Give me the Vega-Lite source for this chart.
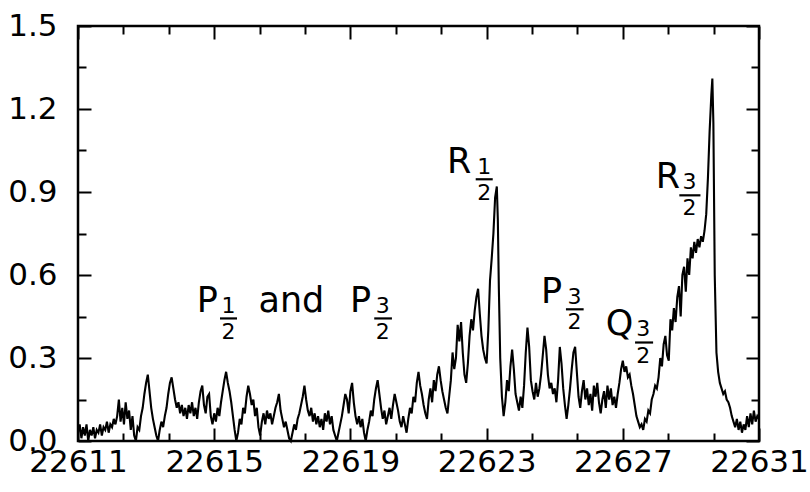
{
  "$schema": "https://vega.github.io/schema/vega-lite/v6.json",
  "autosize": {"type": "none"},
  "padding": {"left": 78, "top": 26, "right": 51, "bottom": 51},
  "width": 681,
  "height": 415,
  "background": "white",
  "datasets": {
    "spectrum": [
      {"x":22611.00,"y":0.03},{"x":22611.05,"y":0.06},{"x":22611.10,"y":0.01},{"x":22611.15,"y":0.05},{"x":22611.20,"y":0.02},{"x":22611.25,"y":0.06},{"x":22611.30,"y":0.00},{"x":22611.35,"y":0.04},{"x":22611.40,"y":0.02},{"x":22611.45,"y":0.05},
      {"x":22611.50,"y":0.01},{"x":22611.55,"y":0.04},{"x":22611.60,"y":0.03},{"x":22611.65,"y":0.06},{"x":22611.70,"y":0.02},{"x":22611.75,"y":0.05},{"x":22611.80,"y":0.04},{"x":22611.85,"y":0.07},{"x":22611.90,"y":0.03},{"x":22611.95,"y":0.06},
      {"x":22612.00,"y":0.05},{"x":22612.05,"y":0.08},{"x":22612.10,"y":0.06},{"x":22612.15,"y":0.09},{"x":22612.20,"y":0.15},{"x":22612.25,"y":0.07},{"x":22612.30,"y":0.12},{"x":22612.35,"y":0.06},{"x":22612.40,"y":0.14},{"x":22612.45,"y":0.08},
      {"x":22612.50,"y":0.11},{"x":22612.55,"y":0.04},{"x":22612.60,"y":0.09},{"x":22612.65,"y":0.02},{"x":22612.70,"y":0.00},{"x":22612.75,"y":0.05},{"x":22612.80,"y":0.04},{"x":22612.85,"y":0.09},{"x":22612.90,"y":0.12},{"x":22612.95,"y":0.17},
      {"x":22613.00,"y":0.21},{"x":22613.05,"y":0.24},{"x":22613.10,"y":0.18},{"x":22613.15,"y":0.12},{"x":22613.20,"y":0.08},{"x":22613.25,"y":0.05},{"x":22613.30,"y":0.02},{"x":22613.35,"y":0.00},{"x":22613.40,"y":0.04},{"x":22613.45,"y":0.07},
      {"x":22613.50,"y":0.05},{"x":22613.55,"y":0.09},{"x":22613.60,"y":0.12},{"x":22613.65,"y":0.17},{"x":22613.70,"y":0.21},{"x":22613.75,"y":0.23},{"x":22613.80,"y":0.19},{"x":22613.85,"y":0.15},{"x":22613.90,"y":0.12},{"x":22613.95,"y":0.14},
      {"x":22614.00,"y":0.10},{"x":22614.05,"y":0.13},{"x":22614.10,"y":0.09},{"x":22614.15,"y":0.12},{"x":22614.20,"y":0.08},{"x":22614.25,"y":0.13},{"x":22614.30,"y":0.10},{"x":22614.35,"y":0.14},{"x":22614.40,"y":0.09},{"x":22614.45,"y":0.12},
      {"x":22614.50,"y":0.08},{"x":22614.55,"y":0.14},{"x":22614.60,"y":0.18},{"x":22614.65,"y":0.20},{"x":22614.70,"y":0.13},{"x":22614.75,"y":0.10},{"x":22614.80,"y":0.16},{"x":22614.85,"y":0.17},{"x":22614.90,"y":0.09},{"x":22614.95,"y":0.06},
      {"x":22615.00,"y":0.10},{"x":22615.05,"y":0.07},{"x":22615.10,"y":0.12},{"x":22615.15,"y":0.09},{"x":22615.20,"y":0.14},{"x":22615.25,"y":0.18},{"x":22615.30,"y":0.22},{"x":22615.35,"y":0.25},{"x":22615.40,"y":0.21},{"x":22615.45,"y":0.18},
      {"x":22615.50,"y":0.14},{"x":22615.55,"y":0.09},{"x":22615.60,"y":0.04},{"x":22615.65,"y":0.00},{"x":22615.70,"y":0.03},{"x":22615.75,"y":0.08},{"x":22615.80,"y":0.06},{"x":22615.85,"y":0.12},{"x":22615.90,"y":0.10},{"x":22615.95,"y":0.16},
      {"x":22616.00,"y":0.20},{"x":22616.05,"y":0.17},{"x":22616.10,"y":0.13},{"x":22616.15,"y":0.15},{"x":22616.20,"y":0.09},{"x":22616.25,"y":0.12},{"x":22616.30,"y":0.05},{"x":22616.35,"y":0.02},{"x":22616.40,"y":0.07},{"x":22616.45,"y":0.10},
      {"x":22616.50,"y":0.06},{"x":22616.55,"y":0.11},{"x":22616.60,"y":0.08},{"x":22616.65,"y":0.10},{"x":22616.70,"y":0.06},{"x":22616.75,"y":0.09},{"x":22616.80,"y":0.12},{"x":22616.85,"y":0.14},{"x":22616.90,"y":0.17},{"x":22616.95,"y":0.11},
      {"x":22617.00,"y":0.08},{"x":22617.05,"y":0.05},{"x":22617.10,"y":0.07},{"x":22617.15,"y":0.04},{"x":22617.20,"y":0.01},{"x":22617.25,"y":0.00},{"x":22617.30,"y":0.03},{"x":22617.35,"y":0.06},{"x":22617.40,"y":0.04},{"x":22617.45,"y":0.08},
      {"x":22617.50,"y":0.10},{"x":22617.55,"y":0.13},{"x":22617.60,"y":0.16},{"x":22617.65,"y":0.20},{"x":22617.70,"y":0.15},{"x":22617.75,"y":0.11},{"x":22617.80,"y":0.09},{"x":22617.85,"y":0.12},{"x":22617.90,"y":0.07},{"x":22617.95,"y":0.10},
      {"x":22618.00,"y":0.06},{"x":22618.05,"y":0.09},{"x":22618.10,"y":0.05},{"x":22618.15,"y":0.08},{"x":22618.20,"y":0.04},{"x":22618.25,"y":0.10},{"x":22618.30,"y":0.07},{"x":22618.35,"y":0.11},{"x":22618.40,"y":0.06},{"x":22618.45,"y":0.09},
      {"x":22618.50,"y":0.04},{"x":22618.55,"y":0.02},{"x":22618.60,"y":0.00},{"x":22618.65,"y":0.03},{"x":22618.70,"y":0.06},{"x":22618.75,"y":0.09},{"x":22618.80,"y":0.13},{"x":22618.85,"y":0.17},{"x":22618.90,"y":0.15},{"x":22618.95,"y":0.10},
      {"x":22619.00,"y":0.18},{"x":22619.05,"y":0.21},{"x":22619.10,"y":0.14},{"x":22619.15,"y":0.09},{"x":22619.20,"y":0.06},{"x":22619.25,"y":0.09},{"x":22619.30,"y":0.05},{"x":22619.35,"y":0.08},{"x":22619.40,"y":0.03},{"x":22619.45,"y":0.00},
      {"x":22619.50,"y":0.04},{"x":22619.55,"y":0.07},{"x":22619.60,"y":0.11},{"x":22619.65,"y":0.09},{"x":22619.70,"y":0.15},{"x":22619.75,"y":0.19},{"x":22619.80,"y":0.22},{"x":22619.85,"y":0.17},{"x":22619.90,"y":0.12},{"x":22619.95,"y":0.08},
      {"x":22620.00,"y":0.11},{"x":22620.05,"y":0.06},{"x":22620.10,"y":0.09},{"x":22620.15,"y":0.12},{"x":22620.20,"y":0.08},{"x":22620.25,"y":0.13},{"x":22620.30,"y":0.17},{"x":22620.35,"y":0.14},{"x":22620.40,"y":0.11},{"x":22620.45,"y":0.07},
      {"x":22620.50,"y":0.05},{"x":22620.55,"y":0.09},{"x":22620.60,"y":0.06},{"x":22620.65,"y":0.03},{"x":22620.70,"y":0.08},{"x":22620.75,"y":0.12},{"x":22620.80,"y":0.10},{"x":22620.85,"y":0.16},{"x":22620.90,"y":0.14},{"x":22620.95,"y":0.21},
      {"x":22621.00,"y":0.25},{"x":22621.05,"y":0.20},{"x":22621.10,"y":0.17},{"x":22621.15,"y":0.13},{"x":22621.20,"y":0.10},{"x":22621.25,"y":0.08},{"x":22621.30,"y":0.15},{"x":22621.35,"y":0.19},{"x":22621.40,"y":0.14},{"x":22621.45,"y":0.22},
      {"x":22621.50,"y":0.18},{"x":22621.55,"y":0.24},{"x":22621.60,"y":0.27},{"x":22621.65,"y":0.22},{"x":22621.70,"y":0.18},{"x":22621.75,"y":0.15},{"x":22621.80,"y":0.12},{"x":22621.85,"y":0.10},{"x":22621.90,"y":0.16},{"x":22621.95,"y":0.22},
      {"x":22622.00,"y":0.32},{"x":22622.05,"y":0.26},{"x":22622.10,"y":0.30},{"x":22622.15,"y":0.42},{"x":22622.20,"y":0.36},{"x":22622.25,"y":0.43},{"x":22622.30,"y":0.32},{"x":22622.35,"y":0.24},{"x":22622.40,"y":0.21},{"x":22622.45,"y":0.28},
      {"x":22622.50,"y":0.38},{"x":22622.55,"y":0.44},{"x":22622.60,"y":0.40},{"x":22622.65,"y":0.47},{"x":22622.70,"y":0.52},{"x":22622.75,"y":0.55},{"x":22622.80,"y":0.46},{"x":22622.85,"y":0.38},{"x":22622.90,"y":0.33},{"x":22622.95,"y":0.30},
      {"x":22623.00,"y":0.28},{"x":22623.05,"y":0.40},{"x":22623.10,"y":0.58},{"x":22623.15,"y":0.66},{"x":22623.20,"y":0.75},{"x":22623.25,"y":0.88},{"x":22623.30,"y":0.92},{"x":22623.33,"y":0.80},{"x":22623.36,"y":0.55},{"x":22623.40,"y":0.30},
      {"x":22623.45,"y":0.16},{"x":22623.50,"y":0.09},{"x":22623.55,"y":0.14},{"x":22623.60,"y":0.22},{"x":22623.65,"y":0.18},{"x":22623.70,"y":0.27},{"x":22623.75,"y":0.33},{"x":22623.80,"y":0.26},{"x":22623.85,"y":0.17},{"x":22623.90,"y":0.14},{"x":22623.95,"y":0.11},
      {"x":22624.00,"y":0.16},{"x":22624.05,"y":0.12},{"x":22624.10,"y":0.20},{"x":22624.15,"y":0.32},{"x":22624.20,"y":0.41},{"x":22624.25,"y":0.34},{"x":22624.30,"y":0.22},{"x":22624.35,"y":0.18},{"x":22624.40,"y":0.15},{"x":22624.45,"y":0.21},
      {"x":22624.50,"y":0.16},{"x":22624.55,"y":0.19},{"x":22624.60,"y":0.24},{"x":22624.65,"y":0.31},{"x":22624.70,"y":0.38},{"x":22624.75,"y":0.33},{"x":22624.80,"y":0.24},{"x":22624.85,"y":0.19},{"x":22624.90,"y":0.21},{"x":22624.95,"y":0.17},
      {"x":22625.00,"y":0.19},{"x":22625.05,"y":0.14},{"x":22625.10,"y":0.22},{"x":22625.15,"y":0.34},{"x":22625.20,"y":0.28},{"x":22625.25,"y":0.19},{"x":22625.30,"y":0.13},{"x":22625.35,"y":0.08},{"x":22625.40,"y":0.13},{"x":22625.45,"y":0.19},
      {"x":22625.50,"y":0.26},{"x":22625.55,"y":0.32},{"x":22625.60,"y":0.34},{"x":22625.65,"y":0.25},{"x":22625.70,"y":0.16},{"x":22625.75,"y":0.12},{"x":22625.80,"y":0.18},{"x":22625.85,"y":0.22},{"x":22625.90,"y":0.15},{"x":22625.95,"y":0.19},
      {"x":22626.00,"y":0.13},{"x":22626.05,"y":0.17},{"x":22626.10,"y":0.11},{"x":22626.15,"y":0.20},{"x":22626.20,"y":0.16},{"x":22626.25,"y":0.21},{"x":22626.30,"y":0.14},{"x":22626.35,"y":0.10},{"x":22626.40,"y":0.15},{"x":22626.45,"y":0.18},
      {"x":22626.50,"y":0.12},{"x":22626.55,"y":0.20},{"x":22626.60,"y":0.15},{"x":22626.65,"y":0.19},{"x":22626.70,"y":0.13},{"x":22626.75,"y":0.16},{"x":22626.80,"y":0.12},{"x":22626.85,"y":0.17},{"x":22626.90,"y":0.21},{"x":22626.95,"y":0.26},
      {"x":22627.00,"y":0.29},{"x":22627.05,"y":0.25},{"x":22627.10,"y":0.27},{"x":22627.15,"y":0.23},{"x":22627.20,"y":0.24},{"x":22627.25,"y":0.20},{"x":22627.30,"y":0.17},{"x":22627.35,"y":0.13},{"x":22627.40,"y":0.09},{"x":22627.45,"y":0.07},
      {"x":22627.50,"y":0.05},{"x":22627.55,"y":0.06},{"x":22627.60,"y":0.04},{"x":22627.65,"y":0.08},{"x":22627.70,"y":0.07},{"x":22627.75,"y":0.11},{"x":22627.80,"y":0.10},{"x":22627.85,"y":0.15},{"x":22627.90,"y":0.17},{"x":22627.95,"y":0.20},
      {"x":22628.00,"y":0.19},{"x":22628.05,"y":0.23},{"x":22628.10,"y":0.30},{"x":22628.15,"y":0.27},{"x":22628.20,"y":0.35},{"x":22628.25,"y":0.38},{"x":22628.30,"y":0.31},{"x":22628.35,"y":0.29},{"x":22628.40,"y":0.44},{"x":22628.45,"y":0.40},
      {"x":22628.50,"y":0.48},{"x":22628.55,"y":0.43},{"x":22628.60,"y":0.52},{"x":22628.65,"y":0.56},{"x":22628.70,"y":0.45},{"x":22628.75,"y":0.60},{"x":22628.80,"y":0.63},{"x":22628.85,"y":0.54},{"x":22628.90,"y":0.66},{"x":22628.95,"y":0.60},
      {"x":22629.00,"y":0.70},{"x":22629.05,"y":0.66},{"x":22629.10,"y":0.72},{"x":22629.15,"y":0.68},{"x":22629.20,"y":0.73},{"x":22629.25,"y":0.70},{"x":22629.30,"y":0.74},{"x":22629.35,"y":0.72},{"x":22629.40,"y":0.76},{"x":22629.45,"y":0.82},
      {"x":22629.50,"y":0.95},{"x":22629.55,"y":1.12},{"x":22629.60,"y":1.25},{"x":22629.63,"y":1.31},{"x":22629.66,"y":1.15},{"x":22629.70,"y":0.60},{"x":22629.75,"y":0.32},{"x":22629.80,"y":0.25},{"x":22629.85,"y":0.21},{"x":22629.90,"y":0.19},{"x":22629.95,"y":0.17},
      {"x":22630.00,"y":0.18},{"x":22630.05,"y":0.15},{"x":22630.10,"y":0.14},{"x":22630.15,"y":0.12},{"x":22630.20,"y":0.09},{"x":22630.25,"y":0.07},{"x":22630.30,"y":0.05},{"x":22630.35,"y":0.08},{"x":22630.40,"y":0.04},{"x":22630.45,"y":0.07},
      {"x":22630.50,"y":0.03},{"x":22630.55,"y":0.06},{"x":22630.60,"y":0.04},{"x":22630.65,"y":0.09},{"x":22630.70,"y":0.05},{"x":22630.75,"y":0.10},{"x":22630.80,"y":0.06},{"x":22630.85,"y":0.11},{"x":22630.90,"y":0.07},{"x":22630.95,"y":0.09},
      {"x":22631.00,"y":0.08}
    ],
    "letters": [
      {"x":22621.84,"y":0.969,"t":"R"},
      {"x":22627.97,"y":0.914,"t":"R"},
      {"x":22614.49,"y":0.466,"t":"P"},
      {"x":22616.30,"y":0.466,"t":"and"},
      {"x":22618.99,"y":0.466,"t":"P"},
      {"x":22624.60,"y":0.499,"t":"P"},
      {"x":22626.50,"y":0.383,"t":"Q"}
    ],
    "digits": [
      {"x":22622.93,"y":0.965,"t":"1"},{"x":22622.93,"y":0.872,"t":"2"},
      {"x":22628.96,"y":0.911,"t":"3"},{"x":22628.96,"y":0.818,"t":"2"},
      {"x":22615.42,"y":0.463,"t":"1"},{"x":22615.42,"y":0.370,"t":"2"},
      {"x":22619.95,"y":0.463,"t":"3"},{"x":22619.95,"y":0.370,"t":"2"},
      {"x":22625.58,"y":0.496,"t":"3"},{"x":22625.58,"y":0.406,"t":"2"},
      {"x":22627.60,"y":0.380,"t":"3"},{"x":22627.60,"y":0.283,"t":"2"}
    ],
    "bars": [
      {"x":22622.68,"x2":22623.18,"y":0.946},
      {"x":22628.66,"x2":22629.28,"y":0.888},
      {"x":22615.17,"x2":22615.67,"y":0.443},
      {"x":22619.70,"x2":22620.22,"y":0.443},
      {"x":22625.33,"x2":22625.85,"y":0.476},
      {"x":22627.36,"x2":22627.89,"y":0.356}
    ],
    "frame": [{"x":22611,"y":0},{"x":22631,"y":1.5}]
  },
  "resolve": {"axis": {"x": "independent", "y": "independent"}},
  "layer": [
    {
      "data": {"name": "spectrum"},
      "mark": {"type": "line", "color": "black", "strokeWidth": 2.1, "interpolate": "linear"},
      "encoding": {
        "x": {"field": "x", "type": "quantitative", "scale": {"domain": [22611, 22631], "nice": false, "zero": false},
          "axis": {"orient": "bottom", "values": [22611, 22615, 22619, 22623, 22627, 22631], "tickSize": -13, "labelPadding": 19, "format": "d", "title": null}},
        "y": {"field": "y", "type": "quantitative", "scale": {"domain": [0, 1.5], "nice": false, "zero": false},
          "axis": {"orient": "left", "values": [0, 0.3, 0.6, 0.9, 1.2, 1.5], "tickSize": -13, "labelPadding": 34, "format": ".1f", "title": null}}
      }
    },
    {
      "data": {"name": "frame"},
      "mark": {"type": "point", "opacity": 0},
      "encoding": {
        "x": {"field": "x", "type": "quantitative", "scale": {"domain": [22611, 22631], "nice": false, "zero": false},
          "axis": {"orient": "bottom", "values": [22612.333, 22613.667, 22616.333, 22617.667, 22620.333, 22621.667, 22624.333, 22625.667, 22628.333, 22629.667], "tickSize": -8, "labels": false, "title": null}},
        "y": {"field": "y", "type": "quantitative", "scale": {"domain": [0, 1.5], "nice": false, "zero": false},
          "axis": {"orient": "left", "values": [0.15, 0.45, 0.75, 1.05, 1.35], "tickSize": -8, "labels": false, "title": null}}
      }
    },
    {
      "data": {"name": "frame"},
      "mark": {"type": "point", "opacity": 0},
      "encoding": {
        "x": {"field": "x", "type": "quantitative", "scale": {"domain": [22611, 22631], "nice": false, "zero": false},
          "axis": {"orient": "top", "values": [22611, 22615, 22619, 22623, 22627, 22631], "tickSize": -13, "labels": false, "title": null}},
        "y": {"field": "y", "type": "quantitative", "scale": {"domain": [0, 1.5], "nice": false, "zero": false},
          "axis": {"orient": "right", "values": [0, 0.3, 0.6, 0.9, 1.2, 1.5], "tickSize": -13, "labels": false, "title": null}}
      }
    },
    {
      "data": {"name": "frame"},
      "mark": {"type": "point", "opacity": 0},
      "encoding": {
        "x": {"field": "x", "type": "quantitative", "scale": {"domain": [22611, 22631], "nice": false, "zero": false},
          "axis": {"orient": "top", "values": [22612.333, 22613.667, 22616.333, 22617.667, 22620.333, 22621.667, 22624.333, 22625.667, 22628.333, 22629.667], "tickSize": -8, "labels": false, "title": null}},
        "y": {"field": "y", "type": "quantitative", "scale": {"domain": [0, 1.5], "nice": false, "zero": false},
          "axis": {"orient": "right", "values": [0.15, 0.45, 0.75, 1.05, 1.35], "tickSize": -8, "labels": false, "title": null}}
      }
    },
    {
      "data": {"name": "letters"},
      "mark": {"type": "text", "align": "left", "baseline": "alphabetic", "font": "DejaVu Sans", "fontSize": 35, "color": "black"},
      "encoding": {
        "x": {"field": "x", "type": "quantitative", "axis": null},
        "y": {"field": "y", "type": "quantitative", "axis": null},
        "text": {"field": "t"}
      }
    },
    {
      "data": {"name": "digits"},
      "mark": {"type": "text", "align": "center", "baseline": "alphabetic", "font": "DejaVu Sans", "fontSize": 22, "color": "black"},
      "encoding": {
        "x": {"field": "x", "type": "quantitative", "axis": null},
        "y": {"field": "y", "type": "quantitative", "axis": null},
        "text": {"field": "t"}
      }
    },
    {
      "data": {"name": "bars"},
      "mark": {"type": "rule", "color": "black", "strokeWidth": 2.2},
      "encoding": {
        "x": {"field": "x", "type": "quantitative", "axis": null},
        "x2": {"field": "x2"},
        "y": {"field": "y", "type": "quantitative", "axis": null}
      }
    }
  ],
  "config": {
    "view": {"stroke": "black", "strokeWidth": 2.5},
    "axis": {
      "domain": false, "grid": false,
      "tickColor": "black", "tickWidth": 2,
      "labelColor": "black", "labelFont": "DejaVu Sans", "labelFontSize": 31,
      "labelOverlap": false, "labelFlush": false, "labelBound": false
    }
  }
}
